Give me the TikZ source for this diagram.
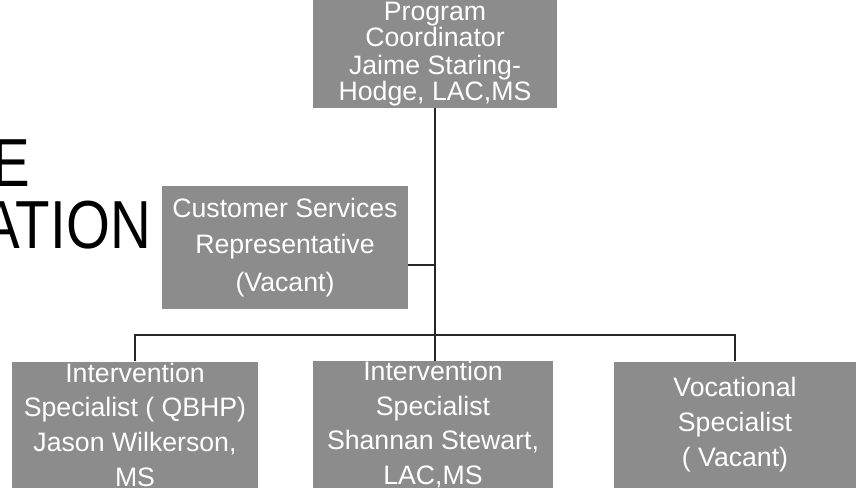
\documentclass[tikz,border=0pt]{standalone}
\usepackage{fontspec}
\setmainfont{Liberation Sans}
\begin{document}
\begin{tikzpicture}[x=0.75pt,y=-0.75pt,
    boxstyle/.style={rectangle, fill=black!45, text=white, inner sep=0pt, align=center,
                     font=\fontsize{20}{26}\selectfont},
    linkstyle/.style={draw=black!85, line width=0.9pt},
    titlestyle/.style={inner sep=0pt, font=\fontsize{51}{60}\selectfont}]
    \useasboundingbox (0,0) rectangle (856,487);
    \clip (0,0) rectangle (856,487);

    \node[titlestyle, anchor=base east] (titleA) at (30,186) {\scalebox{0.83}[1]{E}};
    \node[titlestyle, anchor=base east] (titleB) at (151,248) {\scalebox{0.83}[1]{ATION}};

    \node[boxstyle, minimum width=183pt, minimum height=81pt, font=\fontsize{20}{19.5}\selectfont] (coord) at (435,54)
        {Program\\ Coordinator\\[2pt] Jaime Staring-\\ Hodge, LAC,MS};
    \node[boxstyle, minimum width=184.5pt, minimum height=92pt, font=\fontsize{20}{27.5}\selectfont] (csr) at (285,247.5)
        {Customer Services\\ Representative\\[1pt] (Vacant)};
    \node[boxstyle, minimum width=184.5pt, minimum height=94.5pt] (spec1) at (135,424.5)
        {Intervention\\ Specialist ( QBHP)\\ Jason Wilkerson,\\ MS};
    \node[boxstyle, minimum width=180pt, minimum height=94.5pt] (spec2) at (433,424.5)
        {Intervention\\ Specialist\\ Shannan Stewart,\\ LAC,MS};
    \node[boxstyle, minimum width=181.5pt, minimum height=94.5pt] (voc) at (735,424.5)
        {Vocational\\ Specialist\\ ( Vacant)};

    \coordinate (bus) at (435,335);
    \coordinate (tap) at (435,265);
    \draw[linkstyle] (coord.south) -- (coord.south |- spec2.north);
    \draw[linkstyle] (spec1.north) |- (bus) -| (voc.north);
    \draw[linkstyle] (csr.east |- tap) -- (tap);
\end{tikzpicture}
\end{document}
